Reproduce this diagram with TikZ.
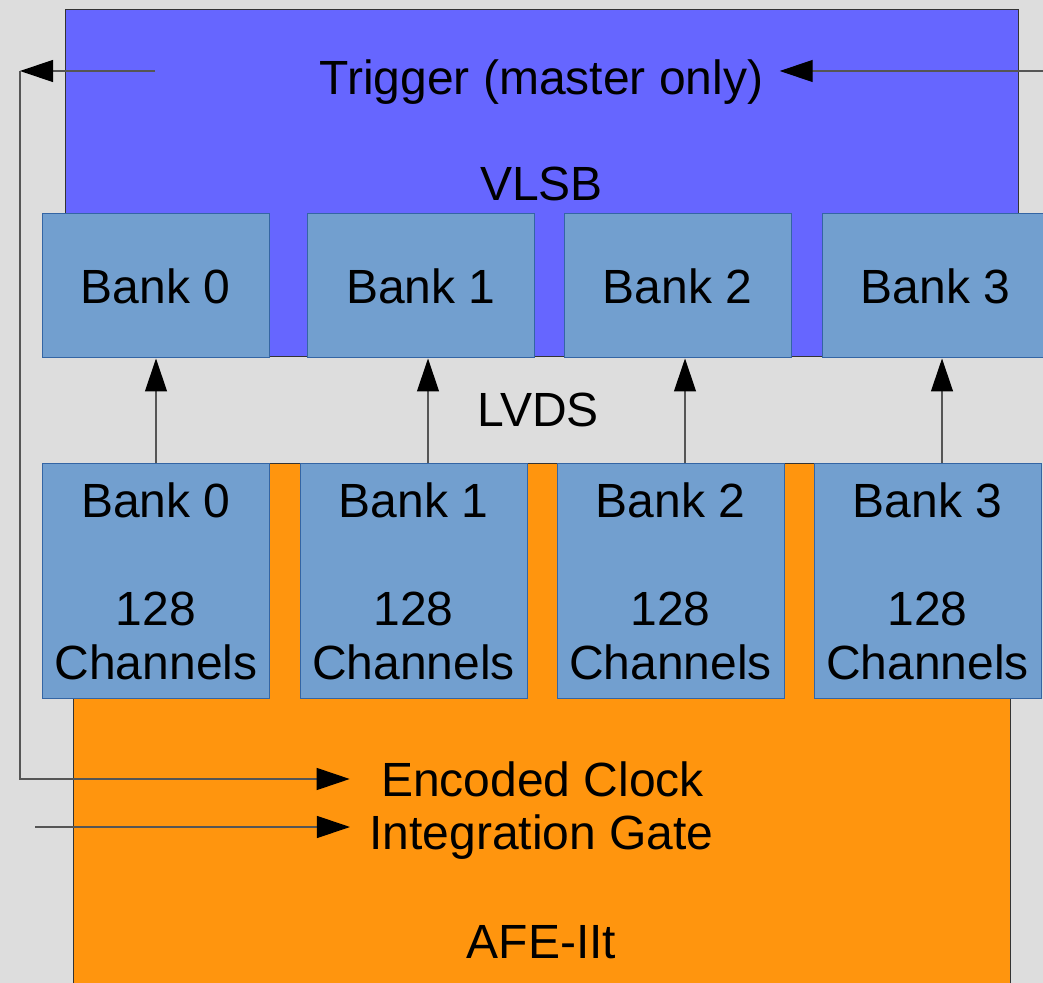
\documentclass[tikz,border=0pt]{standalone}
\usepackage{fontspec}
\setmainfont{Liberation Sans}
\usetikzlibrary{arrows.meta}
\definecolor{bggray}{HTML}{DDDDDD}
\definecolor{vlsbblue}{HTML}{6666FF}
\definecolor{bankblue}{HTML}{729FCF}
\definecolor{bankedge}{HTML}{3465A4}
\definecolor{afeorange}{HTML}{FF950E}
\definecolor{wiregray}{HTML}{555555}
\tikzstyle{board} = [draw=black!80, line width=0.5pt, rectangle, inner sep=0pt]
\tikzstyle{topbank} = [draw=bankedge, fill=bankblue, line width=0.5pt, rectangle, minimum width=113.5pt, minimum height=72pt, inner sep=0pt]
\tikzstyle{afebank} = [topbank, minimum height=117pt, align=center]
\tikzstyle{lbl} = [inner sep=0pt, text depth=0pt]
\tikzstyle{wire} = [draw=wiregray, line width=0.6pt]

\begin{document}
\begin{tikzpicture}[x=0.5pt, y=-0.5pt, >={Triangle[length=16.5pt,width=11pt,color=black]}, font=\fontsize{24}{27}\selectfont]
 % background
    \useasboundingbox (0,0) rectangle (1043,983);
    \fill[bggray] (0,0) rectangle (1043,983);
 % nodes
    \node [board, fill=vlsbblue, minimum width=476.5pt, minimum height=173.5pt, name=vlsb] at (541.5,183.5) {VLSB};
    \node [board, fill=afeorange, minimum width=468.5pt, minimum height=263pt, name=afeboard] at (541.5,727) {};
    \foreach \i/\x in {0/155.5, 1/421, 2/677.5, 3/935.5}
        \node [topbank, name=vb\i] at (\x,286) {Bank \i};
    \foreach \i/\x in {0/156, 1/413.5, 2/670.5, 3/927.5}
        \node [afebank, name=ab\i] at (\x,581) {Bank \i\\[27pt]128\\Channels};
    \node [lbl, name=trigger] at (541.5,77.5) {Trigger (master only)};
    \node [lbl, name=lvds] at (538,410) {LVDS};
    \node [lbl, name=clock] at (542.5,779) {Encoded Clock};
    \node [lbl, name=gate] at (541.5,832.5) {Integration Gate};
    \node [lbl, name=afe] at (541.5,942) {AFE-IIt};
    \coordinate (trigsrc) at (1043,71);
    \coordinate (trigtap) at (155,71);
    \coordinate (loop) at (20,71);
    \coordinate (gatesrc) at (35,827);
    % edges
    \foreach \i/\s in {0/0, 1/7.25, 2/7.25, 3/7.25}
        \draw [wire, ->] ([xshift=\s pt]ab\i.north) -- ([xshift=\s pt]ab\i.north |- vb\i.south);
    \draw [wire, ->] (trigsrc) -- ([xshift=8pt]trigger.east |- trigsrc);
    \draw [wire, ->] (trigtap) -- (loop);
    \draw [wire, ->] (loop) |- ([xshift=-15.5pt]clock.west);
    \draw [wire, ->] (gatesrc) -- ([xshift=-9.5pt]gate.west |- gatesrc);
\end{tikzpicture}
\end{document}
